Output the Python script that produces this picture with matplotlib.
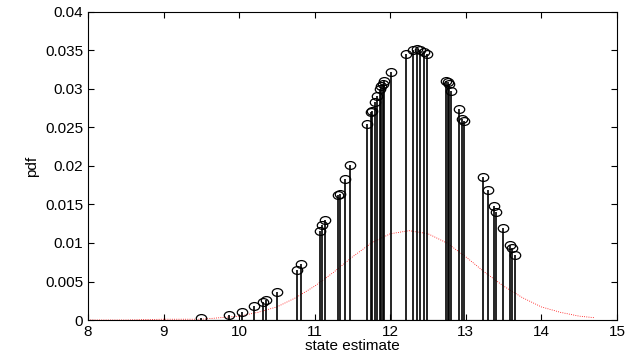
import matplotlib
matplotlib.use("Agg")
import matplotlib.pyplot as plt
from matplotlib.path import Path

plt.rcParams['font.family'] = ['Liberation Sans', 'DejaVu Sans']

# particle positions (state estimate) and their weights (pdf)
particles = [9.50, 9.865, 10.04, 10.19, 10.31, 10.35, 10.50, 10.76, 10.82,
             11.07, 11.10, 11.13, 11.31, 11.33, 11.40, 11.47,
             11.69, 11.74, 11.76, 11.80, 11.83, 11.87, 11.88, 11.90, 11.92,
             12.01, 12.21, 12.30, 12.35, 12.39, 12.44, 12.48,
             12.74, 12.76, 12.78, 12.81, 12.91, 12.955, 12.97,
             13.23, 13.29, 13.37, 13.40, 13.49, 13.59, 13.61, 13.65]
weights = [0.0003, 0.0007, 0.0011, 0.0018, 0.0023, 0.0026, 0.0037, 0.0065, 0.0073,
           0.0116, 0.0123, 0.0130, 0.0162, 0.0164, 0.0183, 0.0201,
           0.0255, 0.0270, 0.0272, 0.0283, 0.0291, 0.0300, 0.0304, 0.0307, 0.0310,
           0.0322, 0.0345, 0.0351, 0.0352, 0.0350, 0.0348, 0.0345,
           0.0311, 0.0309, 0.0307, 0.0298, 0.0274, 0.0261, 0.0259,
           0.0186, 0.0169, 0.0148, 0.0140, 0.0119, 0.0098, 0.0093, 0.0085]

# true pdf (red dotted)
pdf_x = [8.0, 8.5, 9.0, 9.5, 9.75, 10.0, 10.25, 10.5, 10.75, 11.0, 11.25, 11.5,
         11.75, 12.0, 12.25, 12.5, 12.75, 13.0, 13.25, 13.5, 13.75, 14.0, 14.25,
         14.5, 14.7]
pdf_y = [0.0, 0.0, 0.0001, 0.0001, 0.0003, 0.0005, 0.0010, 0.0017, 0.0029, 0.0044,
         0.0062, 0.0082, 0.0100, 0.0112, 0.0116, 0.0112, 0.0100, 0.0082, 0.0062,
         0.0044, 0.0029, 0.0017, 0.0010, 0.0005, 0.0003]

yticks = [0, 0.005, 0.01, 0.015, 0.02, 0.025, 0.03, 0.035, 0.04]
ytick_labels = ['0', '0.005', '0.01', '0.015', '0.02', '0.025', '0.03', '0.035', '0.04']

# slightly flattened circle, like the stretched matlab marker
circ = Path.unit_circle()
ellipse = Path(circ.vertices * [1.0, 0.75], circ.codes)

fig = plt.figure(figsize=(6.26, 3.6), dpi=100)
ax = fig.add_axes([0.1406, 0.1111, 0.845, 0.8556])

ax.plot(pdf_x, pdf_y, color='red', linestyle=':', linewidth=0.6)
markers, stems, base = ax.stem(particles, weights, linefmt='k-', markerfmt='ko', basefmt='k-')
plt.setp(stems, linewidth=1.2)
plt.setp(markers, marker=ellipse, markersize=7.5, markerfacecolor='none', markeredgewidth=0.9)
plt.setp(base, linewidth=0.8)

ax.set_xlim(8, 15)
ax.set_ylim(0, 0.04)
ax.set_yticks(yticks)
ax.set_yticklabels(ytick_labels)
ax.tick_params(direction='in', top=True, right=True, labelsize=11, length=4)
for s in ax.spines.values():
    s.set_linewidth(0.8)
ax.set_xlabel('state estimate', fontsize=11, labelpad=0)
ax.set_ylabel('pdf', fontsize=11)

fig.savefig('out.png', dpi=100)
